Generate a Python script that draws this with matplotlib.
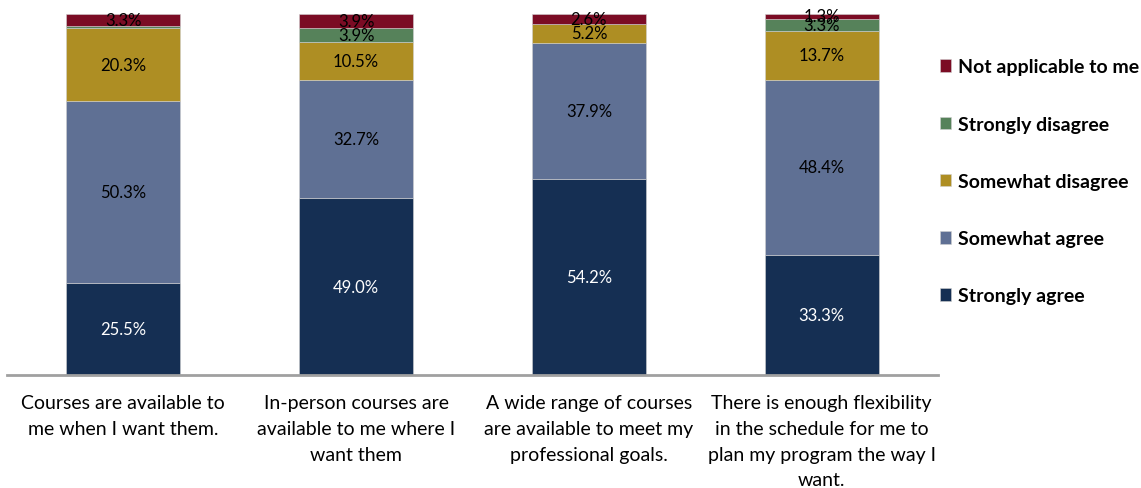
import matplotlib.pyplot as plt
import numpy as np

plt.rcParams['font.family'] = ['Lato', 'DejaVu Sans']

categories = [
    'Courses are available to\nme when I want them.',
    'In-person courses are\navailable to me where I\nwant them',
    'A wide range of courses\nare available to meet my\nprofessional goals.',
    'There is enough flexibility\nin the schedule for me to\nplan my program the way I\nwant.',
]

# series from bottom to top
series = ['Strongly agree', 'Somewhat agree', 'Somewhat disagree',
          'Strongly disagree', 'Not applicable to me']
strongly_agree = [25.5, 49.0, 54.2, 33.3]
somewhat_agree = [50.3, 32.7, 37.9, 48.4]
somewhat_disagree = [20.3, 10.5, 5.2, 13.7]
strongly_disagree = [0.6, 3.9, 0.0, 3.3]
not_applicable = [3.3, 3.9, 2.6, 1.3]

colors = ['#152F53', '#5F7094', '#AE8E23', '#56825A', '#7B0C24']
label_colors = ['white', 'black', 'black', 'black', 'black']
data = [strongly_agree, somewhat_agree, somewhat_disagree,
        strongly_disagree, not_applicable]

fig = plt.figure(figsize=(11.41, 4.89), dpi=100)
ax = fig.add_axes([7 / 1141, 1 - 376 / 489, 931 / 1141, 361 / 489])

x = np.arange(len(categories))
bottom = np.zeros(len(categories))
handles = []
for name, vals, col, lc in zip(series, data, colors, label_colors):
    vals = np.array(vals)
    bars = ax.bar(x, vals, 0.49, bottom=bottom, color=col, label=name,
                  edgecolor='#d0d0d0', linewidth=0.4)
    handles.append(bars)
    for xi, v, b in zip(x, vals, bottom):
        # Excel skips labels on tiny slices
        if v >= 1.0:
            ax.text(xi, b + v / 2, f'{v:.1f}%', ha='center', va='center',
                    fontsize=12, color=lc)
    bottom += vals

ax.set_xlim(-0.5, 3.5)
ax.set_ylim(0, 100)
ax.set_yticks([])
ax.set_xticks(x)
ax.set_xticklabels(categories, fontsize=14, linespacing=1.62, va='top')
ax.tick_params(axis='x', length=0, pad=14)
for s in ['top', 'right', 'left']:
    ax.spines[s].set_visible(False)
ax.spines['bottom'].set_color('#A0A0A0')
ax.spines['bottom'].set_linewidth(2)

leg = fig.legend(handles[::-1], series[::-1], loc='upper left',
                 bbox_to_anchor=(922 / 1141, 1 - 42 / 489), frameon=False,
                 prop={'weight': 'bold', 'size': 14}, labelspacing=2.07,
                 handlelength=0.6, handleheight=0.6, handletextpad=0.35)

fig.savefig('out.png', dpi=100)
